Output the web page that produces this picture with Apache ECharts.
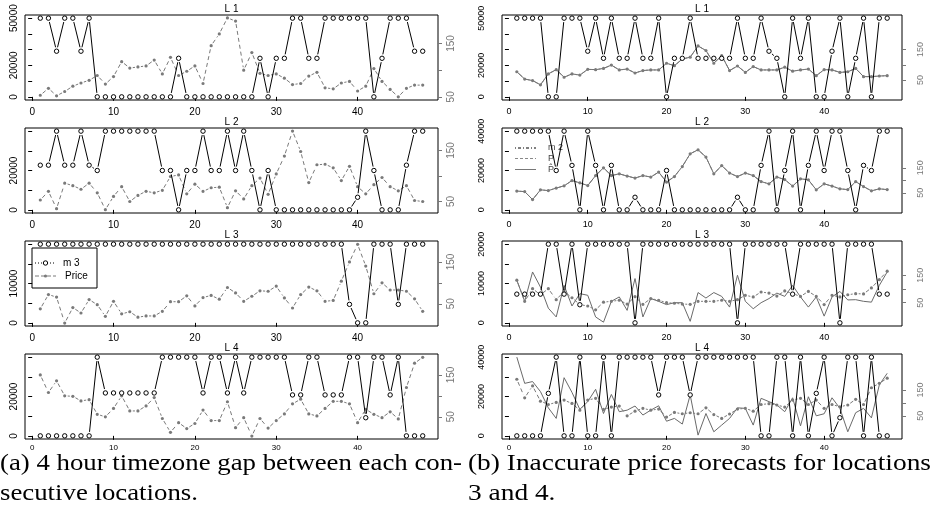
<!DOCTYPE html>
<html>
<head>
<meta charset="utf-8">
<script src="https://cdn.jsdelivr.net/npm/echarts@6/dist/echarts.min.js"></script>
<style>
  html, body { margin: 0; padding: 0; background: #fff; }
  #chart { width: 932px; height: 519px; }
</style>
</head>
<body>
<div id="chart"></div>
<script>
// time steps 1..48
const steps = Array.from({ length: 48 }, (_, i) => i + 1);

// ---- (a) 4 hour timezone gap ----
const mA1 = [50000,50000,29000,50000,50000,29000,50000,0,0,0,0,0,0,0,0,0,0,24500,0,0,0,0,0,0,0,0,0,24500,0,24500,24500,50000,50000,24500,24500,50000,50000,50000,50000,50000,50000,0,24500,50000,50000,50000,29000,29000];
const priceA1 = [53,66,52,60,70,76,81,90,74,88,116,104,106,108,119,93,124,90,98,108,75,146,168,198,192,100,133,94,90,93,85,73,75,89,96,67,65,76,79,61,70,103,79,64,50,66,72,72];

const mA2 = [22700,22700,40000,22700,22700,40000,22700,20000,40000,40000,40000,40000,40000,40000,40000,20000,20000,0,20000,20000,40000,20000,20000,40000,20000,40000,20000,0,20000,0,0,0,0,0,0,0,0,0,0,6400,40000,20000,0,0,0,22700,40000,40000];
const priceA2 = [53,70,36,86,81,74,86,67,34,60,79,50,62,70,67,72,99,102,65,84,70,77,78,38,71,55,81,96,64,104,139,188,148,87,122,123,116,91,119,79,65,83,97,79,71,81,52,50];

const mA3 = [20000,20000,20000,20000,20000,20000,20000,20000,20000,20000,20000,20000,20000,20000,20000,20000,20000,20000,20000,20000,20000,20000,20000,20000,20000,20000,20000,20000,20000,20000,20000,20000,20000,20000,20000,20000,20000,20000,4700,0,0,20000,20000,20000,4700,20000,20000,20000];
const priceA3 = [38,72,66,4,41,28,60,48,20,56,26,31,18,21,21,32,55,55,69,45,65,70,61,89,76,56,68,81,80,92,64,40,72,90,81,56,58,104,150,192,140,74,100,83,83,80,62,32];

const mA4 = [0,0,0,0,0,0,0,40000,21800,21800,21800,21800,21800,21800,21800,40000,40000,40000,40000,40000,21800,40000,40000,21800,40000,21800,40000,40000,40000,40000,40000,20800,20800,40000,40000,20800,20800,20800,40000,40000,9200,40000,40000,20800,40000,0,0,0];
const priceA4 = [150,108,136,100,99,88,91,56,50,70,100,64,64,76,96,46,13,36,22,34,66,41,41,86,24,48,4,46,23,41,57,81,92,57,52,70,87,87,81,36,68,56,48,62,45,120,178,192];

// ---- (b) inaccurate price forecasts ----
const mB1 = [50000,50000,50000,50000,0,0,50000,50000,50000,29000,50000,24500,50000,24500,24500,50000,24500,24500,50000,0,24500,24500,50000,24500,24500,24500,24500,24500,50000,24500,24500,50000,29000,24500,0,50000,24500,50000,0,0,29000,50000,0,24500,50000,0,50000,50000];
const priceB1 = [77,53,48,34,70,84,59,70,66,85,84,88,99,83,86,73,81,83,83,105,97,119,125,162,147,105,130,81,96,75,94,83,83,83,92,79,83,86,64,84,83,75,77,88,61,61,63,64];
const forecastB1 = [77,53,48,34,70,84,59,70,66,85,84,88,99,83,86,73,81,83,83,105,97,119,125,162,147,105,130,81,96,75,94,83,83,83,92,79,83,86,64,84,83,75,77,88,61,61,63,64];

const mB2 = [40000,40000,40000,40000,40000,20000,40000,22600,0,40000,22600,0,22600,0,0,6400,0,0,0,20000,0,0,0,0,0,0,0,0,6400,0,0,22600,40000,0,20000,40000,0,22600,40000,20000,40000,40000,20000,0,22600,20000,40000,40000];
const priceB2 = [57,55,23,62,59,69,78,99,90,79,119,150,119,126,117,109,119,113,133,93,115,155,206,222,193,126,159,129,115,129,119,95,86,113,103,77,106,102,62,86,77,66,63,95,75,58,66,63];
const forecastB2 = [57,55,23,62,59,69,78,99,90,79,119,150,119,126,117,109,119,113,133,93,115,155,206,222,193,126,159,129,115,129,119,95,86,113,103,77,106,102,62,86,77,66,63,95,75,58,66,63];

const mB3 = [7300,7300,7300,7300,20000,20000,7300,20000,4600,20000,20000,20000,20000,20000,20000,0,20000,20000,20000,20000,20000,20000,20000,20000,20000,20000,20000,20000,0,20000,20000,20000,20000,20000,20000,7300,20000,20000,20000,20000,20000,0,20000,20000,20000,20000,7300,7300];
const priceB3 = [132,55,101,79,101,61,91,68,43,38,24,52,55,59,45,72,44,65,59,50,48,45,44,55,55,55,59,55,61,77,71,89,85,74,93,83,73,91,73,43,77,71,79,83,82,104,134,165];
const forecastB3 = [132,55,162,107,30,-2,113,38,83,77,-2,-21,55,71,22,138,-2,65,55,43,50,50,-18,87,67,87,73,34,150,55,28,50,65,85,73,113,71,34,71,1,71,91,60,61,55,52,113,162];

const mB4 = [0,0,0,0,21600,40000,0,0,40000,0,0,40000,0,40000,40000,40000,40000,40000,20800,40000,40000,40000,20800,40000,40000,40000,40000,40000,40000,40000,40000,0,0,40000,40000,0,40000,0,21600,40000,0,9200,40000,40000,0,40000,0,0];
const priceB4 = [192,120,166,107,94,102,111,98,72,111,118,75,84,88,50,68,79,72,76,45,63,58,62,58,81,55,40,57,76,79,68,94,97,92,84,111,118,94,111,79,94,85,92,114,94,159,176,196];
const forecastB4 = [278,176,183,144,81,40,198,141,75,105,153,59,133,66,72,88,53,72,89,29,40,18,131,-25,59,-12,14,40,81,79,14,118,105,92,66,120,11,124,50,58,120,79,-12,62,79,42,170,215];

// panel titles, tick labels
const panelTitles = ['L 1', 'L 2', 'L 3', 'L 4', 'L 1', 'L 2', 'L 3', 'L 4'];
const xTicks = [0, 10, 20, 30, 40];
const priceTicks = [50, 100, 150];
const priceLabels = [50, 150];
const captionA = ['(a) 4 hour timezone gap between each con-', 'secutive locations.'];
const captionB = ['(b) Inaccurate price forecasts for locations', '3 and 4.'];

// ---- panel layout ----
const SANS = 'Liberation Sans';
const panels = [
  { m: mA1, p: priceA1, mMax: 50000, mTicks: [0,10000,20000,30000,40000,50000], mLabels: [0,20000,50000], pRange: [44.1, 203.4] },
  { m: mA2, p: priceA2, mMax: 40000, mTicks: [0,10000,20000,30000,40000], mLabels: [0,20000], pRange: [27.5, 194] },
  { m: mA3, p: priceA3, mMax: 20000, mTicks: [0,5000,10000,15000,20000], mLabels: [0,10000], pRange: [-3, 200] },
  { m: mA4, p: priceA4, mMax: 40000, mTicks: [0,10000,20000,30000,40000], mLabels: [0,20000], pRange: [-3, 200] },
  { m: mB1, p: priceB1, f: forecastB1, mMax: 50000, mTicks: [0,10000,20000,30000,40000,50000], mLabels: [0,20000,50000], pRange: [-16, 264] },
  { m: mB2, p: priceB2, f: forecastB2, mMax: 40000, mTicks: [0,10000,20000,30000,40000], mLabels: [0,20000,40000], pRange: [-30.5, 309] },
  { m: mB3, p: priceB3, f: forecastB3, mMax: 20000, mTicks: [0,5000,10000,15000,20000], mLabels: [0,10000,20000], pRange: [-35, 275] },
  { m: mB4, p: priceB4, f: forecastB4, mMax: 40000, mTicks: [0,10000,20000,30000,40000], mLabels: [0,20000,40000], pRange: [-40, 290] }
];

const grids = [], xAxes = [], yAxes = [], series = [], graphics = [];

// line joined points with gaps around each symbol
function gapSeries(pi, yIdx, values, o) {
  const data = values.map((v, i) => [i + 1, v, i + 2, i + 1 < values.length ? values[i + 1] : NaN]);
  return {
    type: 'custom', xAxisIndex: pi, yAxisIndex: yIdx, data, z: o.z,
    encode: { x: [0, 2], y: [1, 3] },
    renderItem(params, api) {
      const a = api.coord([api.value(0), api.value(1)]);
      const kids = [];
      const yn = api.value(3);
      if (yn != null && !isNaN(yn)) {
        const b = api.coord([api.value(2), yn]);
        const dx = b[0] - a[0], dy = b[1] - a[1];
        const len = Math.hypot(dx, dy);
        if (len > 2 * o.gap + 0.8) {
          const ux = dx / len, uy = dy / len;
          kids.push({
            type: 'line',
            shape: { x1: a[0] + ux * o.gap, y1: a[1] + uy * o.gap, x2: b[0] - ux * o.gap, y2: b[1] - uy * o.gap },
            style: { stroke: o.color, lineWidth: o.lw, lineDash: o.dash || null }
          });
        }
      }
      kids.push({
        type: 'circle', shape: { cx: a[0], cy: a[1], r: o.r },
        style: o.filled ? { fill: o.color, stroke: null } : { fill: '#fff', stroke: o.color, lineWidth: 1 }
      });
      return { type: 'group', children: kids };
    }
  };
}

panels.forEach((pn, pi) => {
  const col = pi < 4 ? 0 : 1;
  const row = pi % 4;
  const left = col ? 502 : 25;
  const width = col ? 400 : 413;
  const top = 15 + 113 * row;
  const height = 85;
  const fs = col ? 9 : 10;
  grids.push({ left, top, width, height, show: true, borderColor: '#000', borderWidth: 1, backgroundColor: 'transparent' });

  xAxes.push({
    type: 'value', gridIndex: pi, min: -0.88, max: 49.88,
    axisLine: { show: false }, splitLine: { show: false },
    axisTick: { show: true, inside: false, length: 4, customValues: xTicks, lineStyle: { color: '#000' } },
    axisLabel: { customValues: xTicks, fontSize: row === 3 ? 8 : fs, color: '#000', margin: row === 3 ? 5 : 7, fontFamily: SANS, formatter: v => String(v) }
  });

  yAxes.push({
    type: 'value', gridIndex: pi, position: 'left',
    min: -0.04 * pn.mMax, max: 1.04 * pn.mMax,
    axisLine: { show: false }, splitLine: { show: false },
    axisTick: { show: true, inside: false, length: 4, customValues: pn.mTicks, lineStyle: { color: '#000' } },
    axisLabel: { customValues: pn.mLabels, rotate: 90, fontSize: fs, color: '#000', margin: col ? 16 : 6, fontFamily: SANS, formatter: v => String(v) }
  });
  yAxes.push({
    type: 'value', gridIndex: pi, position: 'right',
    min: pn.pRange[0], max: pn.pRange[1],
    axisLine: { show: false }, splitLine: { show: false },
    axisTick: { show: true, inside: false, length: 4, customValues: priceTicks, lineStyle: { color: '#777' } },
    axisLabel: { customValues: priceLabels, rotate: 90, fontSize: fs, color: '#777', margin: col ? 14 : 8, fontFamily: SANS, formatter: v => String(v) }
  });

  if (pn.f) {
    series.push({
      type: 'line', xAxisIndex: pi, yAxisIndex: 2 * pi + 1, data: steps.map((s, i) => [s, pn.f[i]]),
      showSymbol: false, symbol: 'none', lineStyle: { color: '#6a6a6a', width: 1 }, z: 2, silent: true
    });
  }
  series.push(gapSeries(pi, 2 * pi + 1, pn.p, { color: '#7a7a7a', lw: 1, dash: [4, 3], gap: 3, r: 1.6, filled: true, z: 3 }));
  series.push(gapSeries(pi, 2 * pi, pn.m, { color: '#000', lw: 1, gap: 4, r: 2.2, filled: false, z: 4 }));

  graphics.push({
    type: 'text', x: left + width / 2, y: top - 6,
    style: { text: panelTitles[pi], fontSize: 10, fontFamily: SANS, fill: '#000', textAlign: 'center', textVerticalAlign: 'middle' }
  });
});

// legend of panel (a) L 3
graphics.push(
  { type: 'rect', shape: { x: 32, y: 248, width: 65, height: 40 }, style: { fill: '#fff', stroke: '#000', lineWidth: 1 } },
  { type: 'line', shape: { x1: 35, y1: 263, x2: 56, y2: 263 }, style: { stroke: '#000', lineWidth: 1, lineDash: [1, 2] } },
  { type: 'circle', shape: { cx: 45.5, cy: 263, r: 2.2 }, style: { fill: '#fff', stroke: '#000', lineWidth: 1 } },
  { type: 'text', x: 63, y: 263, style: { text: 'm 3', fontSize: 10, fontFamily: SANS, fill: '#000', textVerticalAlign: 'middle' } },
  { type: 'line', shape: { x1: 35, y1: 276, x2: 56, y2: 276 }, style: { stroke: '#7a7a7a', lineWidth: 1, lineDash: [4, 2] } },
  { type: 'circle', shape: { cx: 45.5, cy: 276, r: 1.6 }, style: { fill: '#7a7a7a' } },
  { type: 'text', x: 65, y: 276, style: { text: 'Price', fontSize: 10, fontFamily: SANS, fill: '#000', textVerticalAlign: 'middle' } }
);

// legend of panel (b) L 2
graphics.push(
  { type: 'line', shape: { x1: 515, y1: 148, x2: 536, y2: 148 }, style: { stroke: '#000', lineWidth: 1, lineDash: [1, 2, 3, 2] } },
  { type: 'text', x: 548, y: 148, style: { text: 'm 2', fontSize: 9, fontFamily: SANS, fill: '#444', textVerticalAlign: 'middle' } },
  { type: 'line', shape: { x1: 515, y1: 158.5, x2: 536, y2: 158.5 }, style: { stroke: '#888', lineWidth: 1, lineDash: [3, 2] } },
  { type: 'text', x: 548, y: 158.5, style: { text: 'P', fontSize: 9, fontFamily: SANS, fill: '#444', textVerticalAlign: 'middle' } },
  { type: 'line', shape: { x1: 515, y1: 169.5, x2: 536, y2: 169.5 }, style: { stroke: '#777', lineWidth: 1 } },
  { type: 'text', x: 548, y: 169.5, style: { text: 'P\u0302', fontSize: 9, fontFamily: SANS, fill: '#444', textVerticalAlign: 'middle' } }
);

// captions, fitted to the column width
const SERIF = 'Liberation Serif';
const CAP_SIZE = 23;
const measure = document.createElement('canvas').getContext('2d');
measure.font = `${CAP_SIZE}px "${SERIF}"`;
const sA = 462 / measure.measureText(captionA[0]).width;
const sB = 463 / measure.measureText(captionB[0]).width;
[[captionA, 0, sA], [captionB, 468, sB]].forEach(([lines, x, s]) => {
  lines.forEach((t, k) => {
    graphics.push({
      type: 'text', x, y: 464 + 30 * k, scaleX: s,
      style: { text: t, fontSize: CAP_SIZE, fontFamily: SERIF, fill: '#000', textVerticalAlign: 'middle' }
    });
  });
});

const chart = echarts.init(document.getElementById('chart'), null, { renderer: 'canvas' });
chart.setOption({
  animation: false,
  backgroundColor: '#fff',
  grid: grids,
  xAxis: xAxes,
  yAxis: yAxes,
  series,
  graphic: graphics
});
</script>
</body>
</html>
